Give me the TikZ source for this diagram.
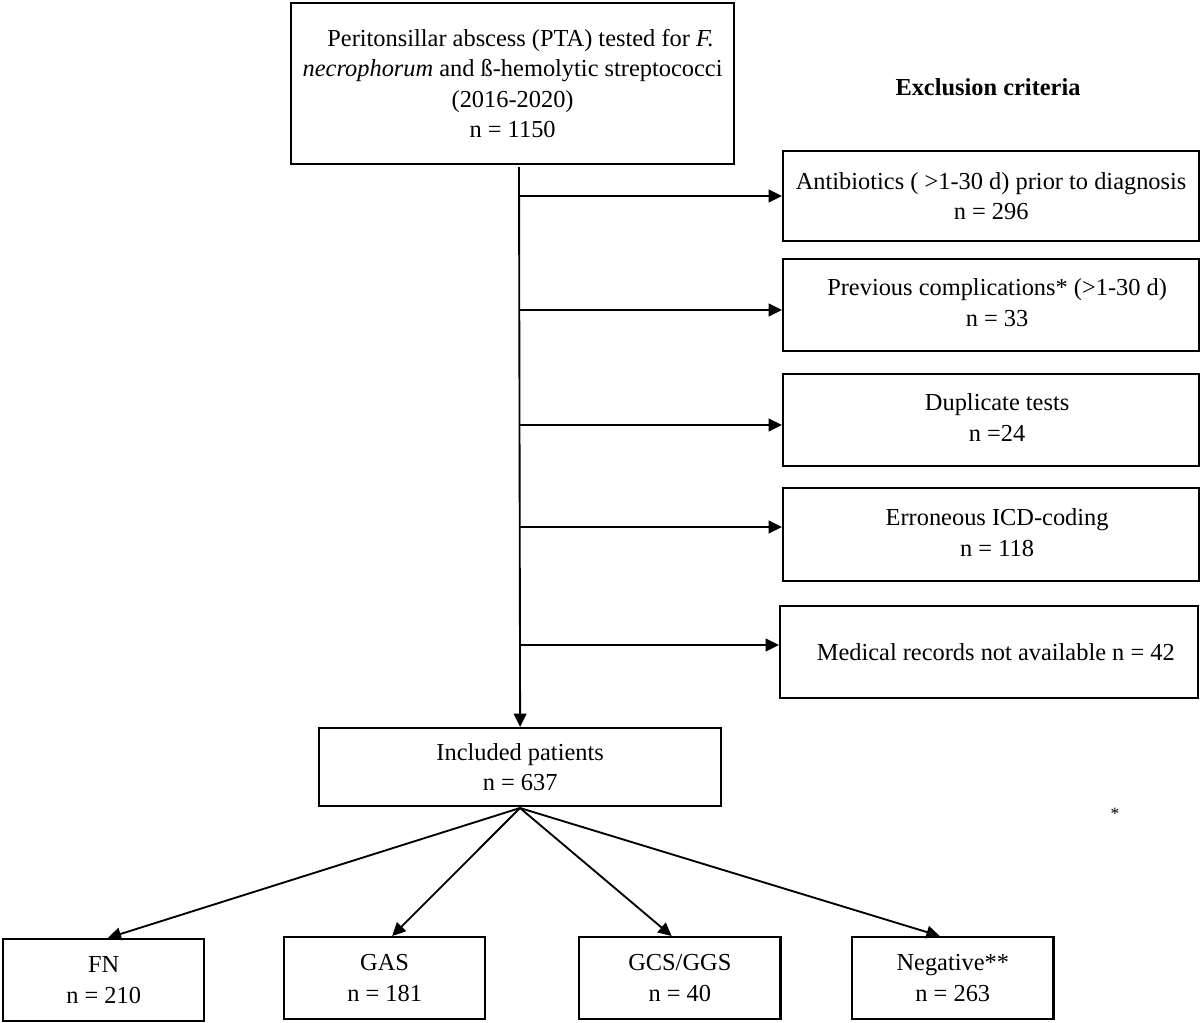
\documentclass[tikz,border=0pt]{standalone}
\usepackage{fontspec}
\setmainfont{Liberation Serif}
\usetikzlibrary{arrows.meta,calc}
\newcommand{\myfs}{\fontsize{18.3}{22.9}\selectfont}
\begin{document}
\begin{tikzpicture}[x=0.75pt,y=-0.75pt,
  box/.style={draw, line width=1.7pt, inner sep=0pt, align=center, anchor=north west, font=\myfs},
  exbox/.style={box, minimum width=312pt, minimum height=69pt},
  botbox/.style={box, minimum width=151pt, minimum height=61.5pt},
  arr/.style={line width=1.4pt, -{Triangle[length=10pt,width=9.5pt]}},
  plain/.style={line width=1.4pt}]
\useasboundingbox (0,0) rectangle (1200,1022);

\node[box, minimum width=332.25pt, minimum height=120.75pt] (top) at (290,2)
  {\hspace*{12pt}Peritonsillar abscess (PTA) tested for \textit{F.}\\
   \textit{necrophorum} and ß-hemolytic streptococci\\
   (2016-2020)\\
   n = 1150};

\node[font=\myfs\bfseries, anchor=base] (exc) at (988,95) {Exclusion criteria};

\node[exbox, minimum height=67.5pt] (e1) at (782,150)
  {Antibiotics ( >1-30 d) prior to diagnosis\\ n = 296};
\node[exbox] (e2) at (782,258)
  {\hspace*{9pt}\begin{tabular}{@{}c@{}}Previous complications* (>1-30 d)\\ n = 33\end{tabular}};
\node[exbox] (e3) at (782,373)
  {\hspace*{9pt}\begin{tabular}{@{}c@{}}Duplicate tests\\ n =24\end{tabular}};
\node[exbox, minimum height=69.75pt] (e4) at (782,487)
  {\hspace*{9pt}\begin{tabular}{@{}c@{}}Erroneous ICD-coding\\ n = 118\end{tabular}};
\node[exbox, minimum width=313.5pt] (e5) at (779,605)
  {\hspace*{10pt}Medical records not available n = 42};

\node[box, minimum width=301.5pt, minimum height=58.5pt] (incl) at (318,727)
  {Included patients\\ n = 637};

\node[font=\fontsize{13}{15}\selectfont] (ast) at (1115,814) {*};

\node[botbox, minimum width=150.75pt] (fn) at (2,938) {FN\\ n = 210};
\node[botbox, minimum width=150.75pt] (gas) at (283,936) {GAS\\ n = 181};
\node[botbox] (gcs) at (578,936) {GCS/GGS\\ n = 40};
\node[botbox] (neg) at (851,936) {Negative**\\ n = 263};

% trunk
\coordinate (t0) at (519,167);
\draw[arr] (t0) -- (incl.north);
\coordinate (b1) at (519,196);
\coordinate (b2) at (519,310);
\coordinate (b3) at (519,425);
\coordinate (b4) at (519,527);
\coordinate (b5) at (519,645);
\draw[arr] (b1) -- (b1 -| e1.west);
\draw[arr] (b2) -- (b2 -| e2.west);
\draw[arr] (b3) -- (b3 -| e3.west);
\draw[arr] (b4) -- (b4 -| e4.west);
\draw[arr] (b5) -- (b5 -| e5.west);

% branches
\coordinate (apex) at (520,808);
\draw[arr] (apex) -- ($(fn.north west)!0.52!(fn.north east)$);
\draw[arr] (apex) -- ($(gas.north west)!0.537!(gas.north east)$);
\draw[arr] (apex) -- ($(gcs.north west)!0.46!(gcs.north east)$);
\draw[arr] (apex) -- ($(neg.north west)!0.436!(neg.north east)$);
\end{tikzpicture}
\end{document}
